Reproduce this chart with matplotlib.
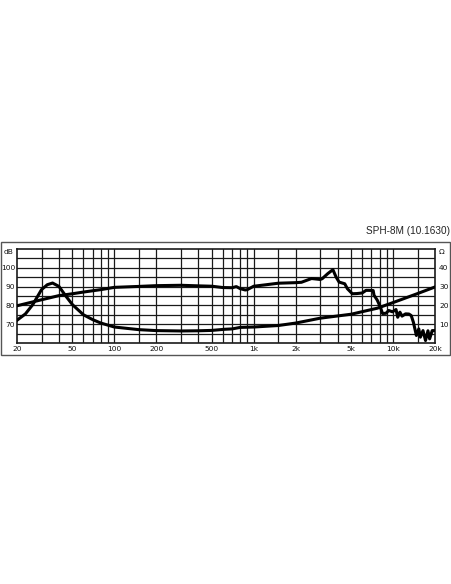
import numpy as np
import matplotlib
matplotlib.use("Agg")
import matplotlib.pyplot as plt
from matplotlib.patches import Rectangle

# frequency response (dB)
spl_f = [20, 30, 40, 50, 60, 80, 100, 150, 200, 300, 400, 500, 600, 700, 750, 800, 870,
         900, 1000, 1200, 1500, 2000, 2200, 2600, 3000, 3100, 3400, 3700, 3900, 4100,
         4500, 4700, 5100, 5500, 6000, 6400, 6700, 7200, 7300, 7700, 8100, 8400, 8900,
         9300, 9900, 10500, 10800, 11200, 11600, 12300, 13000, 13500, 14000, 14700,
         15300, 15700, 16400, 17100, 17800, 18300, 19100, 19500]
spl_db = [79.8, 83.0, 85.2, 86.2, 87.1, 88.4, 89.6, 90.1, 90.5, 90.7, 90.4, 90.2, 89.5,
          89.4, 90.0, 88.9, 88.2, 88.4, 90.2, 90.9, 91.8, 92.1, 92.3, 94.3, 93.8, 94.2,
          96.9, 99.0, 95.1, 92.4, 91.5, 88.9, 86.2, 86.3, 86.6, 88.0, 88.0, 87.9, 85.4,
          82.8, 79.2, 75.7, 75.8, 77.3, 76.6, 77.8, 73.7, 76.4, 74.3, 75.5, 75.4, 74.6,
          71.0, 64.0, 67.5, 63.1, 66.6, 61.3, 66.5, 62.2, 66.6, 66.6]

# impedance curve, plotted on the dB axis (ohm = dB - 60)
imp_f = [20, 23, 26, 30, 33, 36, 40, 45, 50, 60, 70, 80, 100, 150, 200, 300, 400, 500,
         620, 700, 800, 1000, 1500, 2000, 3000, 5000, 7700, 10000, 15000, 20000]
imp_db = [72.1, 75.5, 80.5, 88.4, 91.0, 91.9, 90.1, 84.8, 80.4, 75.0, 72.4, 70.6, 68.5,
          67.1, 66.6, 66.4, 66.5, 66.7, 67.3, 67.5, 68.3, 68.5, 69.3, 70.6, 73.2, 75.3,
          78.5, 81.5, 86.3, 89.8]

grid_f = [30, 40, 50, 60, 70, 80, 90, 100, 150, 200, 300, 400, 500, 600, 700, 800, 900,
          1000, 1500, 2000, 3000, 4000, 5000, 6000, 7000, 8000, 9000, 10000, 15000]
xtick_f = [20, 50, 100, 200, 500, 1000, 2000, 5000, 10000, 20000]
xtick_lab = ["20", "50", "100", "200", "500", "1k", "2k", "5k", "10k", "20k"]
db_ticks = [70, 80, 90, 100]
ohm_ticks = [10, 20, 30, 40]

W, H = 452, 584
fig = plt.figure(figsize=(W / 100, H / 100), dpi=100)

def fx(px):
    return px / W

def fy(py):
    return 1 - py / H

LBL = 5.4

# outer frame
fig.patches.append(Rectangle((fx(1), fy(355)), fx(450) - fx(1), fy(242) - fy(355),
                             transform=fig.transFigure, fill=False,
                             edgecolor="#555555", linewidth=1.0))

ax = fig.add_axes([fx(17), fy(343), fx(435) - fx(17), fy(249) - fy(343)])
ax.set_xscale("log")
ax.set_xlim(20, 20000)
ax.set_ylim(60, 110)

for f in grid_f:
    ax.axvline(f, color="#1a1a1a", lw=0.9, zorder=1)
for d in np.arange(65, 110, 5):
    ax.axhline(d, color="#1a1a1a", lw=0.9, zorder=1)

ax.plot(spl_f, spl_db, color="black", lw=2.2, zorder=3)
ax.plot(imp_f, imp_db, color="black", lw=2.2, zorder=3)

ax.xaxis.set_minor_locator(matplotlib.ticker.NullLocator())
ax.set_xticks(xtick_f)
ax.set_xticklabels(xtick_lab)
ax.set_yticks(db_ticks)
ax.tick_params(axis="both", length=0, labelsize=LBL, colors="#111111")
ax.tick_params(axis="x", pad=2.2)
ax.tick_params(axis="y", pad=1.2)
for s in ax.spines.values():
    s.set_linewidth(1.2)
    s.set_color("#1a1a1a")

ax2 = ax.twinx()
ax2.set_ylim(0, 50)
ax2.set_yticks(ohm_ticks)
ax2.tick_params(axis="y", length=0, labelsize=LBL, colors="#111111", pad=3)
for s in ax2.spines.values():
    s.set_visible(False)

fig.text(fx(4), fy(252.5), "dB", fontsize=LBL, va="center", ha="left", color="#111111")
fig.text(fx(439), fy(252.5), "Ω", fontsize=LBL, va="center", ha="left", color="#111111")
fig.text(fx(450), fy(231), "SPH-8M (10.1630)", fontsize=7.2, family="Liberation Sans",
         va="center", ha="right", color="#222222")

fig.savefig("out.png", dpi=100)
